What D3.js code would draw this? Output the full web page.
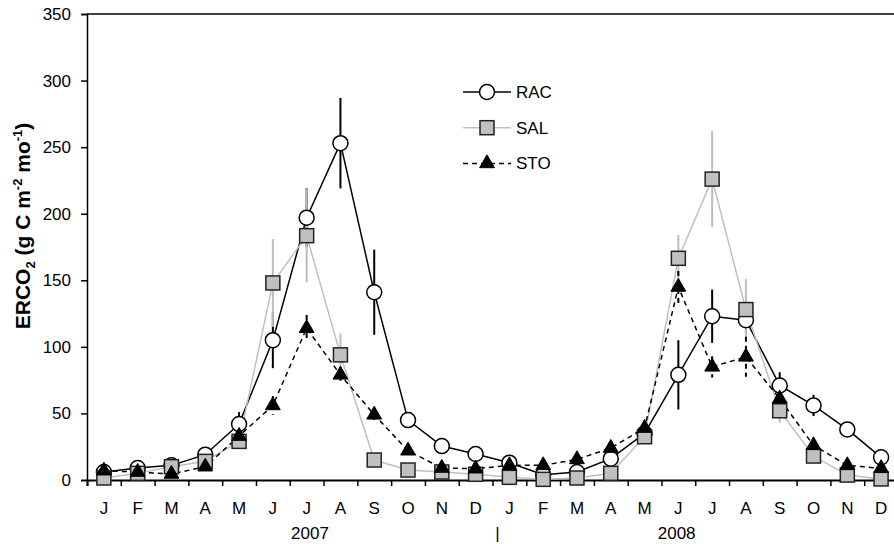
<!DOCTYPE html>
<html>
<head>
<meta charset="utf-8">
<script src="https://cdn.jsdelivr.net/npm/d3@7/dist/d3.min.js"></script>
<style>
	body { margin: 0; background: #fff; }
	svg { display: block; font-family: 'Liberation Sans', Arial, sans-serif; }
</style>
</head>
<body>
<script>
'use strict';

const months = ['J', 'F', 'M', 'A', 'M', 'J', 'J', 'A', 'S', 'O', 'N', 'D',
	'J', 'F', 'M', 'A', 'M', 'J', 'J', 'A', 'S', 'O', 'N', 'D'];
const years = [{ label: '2007', at: 6.6 }, { label: '|', at: 12.15 }, { label: '2008', at: 17.45 }];
const yTicks = [0, 50, 100, 150, 200, 250, 300, 350];

const racValues = [6, 9, 11, 19, 42, 105, 197, 253, 141, 45, 25.5, 19.5,
	13, 4, 6, 16, 35, 79, 123, 120, 71, 56, 38, 17];
const racErrors = [1, 1, 2, 3, 9, 21, 22, 34, 32, 5, 3, 3,
	2, 1, 1, 3, 5, 26, 20, 10, 10, 8, 4, 3];
const salValues = [1.5, 5, 10, 14, 29, 148, 183.5, 94, 15, 7.5, 6, 4.3,
	2, 0.5, 1.5, 5, 32.5, 166.5, 226, 128, 52, 18, 3.7, 0.8];
const salErrors = [1, 1, 2, 3, 4, 33, 35, 16, 3, 2, 2, 1,
	1, 0.5, 1, 2, 5, 17.5, 36, 23, 9, 4, 1, 1];
const stoValues = [7, 6, 4.5, 10, 33, 56, 114, 79, 49, 22, 9, 8.5,
	11, 11, 15.5, 24, 39, 145, 85, 92.5, 61, 26, 11, 8.8];
const stoErrors = [1, 1, 1, 3, 5, 7, 10, 6, 4, 3, 2, 2,
	2, 2, 2, 3, 5, 12, 8, 15, 6, 4, 2, 2];

const series = [
	{ name: 'RAC', values: racValues, errors: racErrors, line: '#000', dash: null, bar: '#000', shape: 'circle' },
	{ name: 'SAL', values: salValues, errors: salErrors, line: '#c0c0c0', dash: null, bar: '#bdbdbd', shape: 'square' },
	{ name: 'STO', values: stoValues, errors: stoErrors, line: '#000', dash: '5,4', bar: '#000', shape: 'triangle' }
];

const W = 894, H = 544,
	plotLeft = 87, plotRight = 898, plotTop = 14, plotBottom = 480,
	svg = d3.select('body').append('svg').attr('width', W).attr('height', H),
	x = d3.scaleLinear().domain([0, 24]).range([plotLeft, plotRight]),
	y = d3.scaleLinear().domain([0, 350]).range([plotBottom, plotTop]);

const drawMarker = (sel, shape) => {
	if (shape === 'circle') {
		sel.append('circle').attr('r', 7.5)
			.attr('fill', '#fff').attr('stroke', '#000').attr('stroke-width', 1.5);
	} else if (shape === 'square') {
		sel.append('rect').attr('x', -7).attr('y', -7).attr('width', 14).attr('height', 14)
			.attr('fill', '#c0c0c0').attr('stroke', '#222').attr('stroke-width', 1.5);
	} else {
		sel.append('path').attr('d', d3.symbol(d3.symbolTriangle, 95)())
			.attr('fill', '#000').attr('stroke', '#000').attr('stroke-width', 1);
	}
};

// frame: top line and axes
svg.append('line')
	.attr('x1', plotLeft).attr('x2', W).attr('y1', plotTop).attr('y2', plotTop)
	.attr('stroke', '#000').attr('stroke-width', 1.5);

const yAxis = svg.append('g')
	.attr('transform', `translate(${plotLeft},0)`)
	.call(d3.axisLeft(y).tickValues(yTicks).tickSize(6).tickPadding(10));

const xAxis = svg.append('g')
	.attr('transform', `translate(0,${plotBottom})`)
	.call(d3.axisBottom(x).tickValues(d3.range(0, 25)).tickSize(6).tickFormat(''));

[yAxis, xAxis].forEach(a => {
	a.selectAll('path, line').attr('stroke', '#000').attr('stroke-width', 1.5);
	a.selectAll('text').attr('font-size', 17).attr('fill', '#000')
		.attr('font-family', "'Liberation Sans', Arial, sans-serif");
});
xAxis.select('.domain').attr('stroke-width', 2);

svg.append('g').selectAll('text').data(months).enter().append('text')
	.attr('x', (d, i) => x(i + 0.5)).attr('y', 514)
	.attr('text-anchor', 'middle').attr('font-size', 17)
	.text(d => d);

svg.append('g').selectAll('text').data(years).enter().append('text')
	.attr('x', d => x(d.at)).attr('y', 539)
	.attr('text-anchor', 'middle').attr('font-size', 17)
	.text(d => d.label);

// y title
const title = svg.append('text')
	.attr('transform', 'translate(30,226) rotate(-90)')
	.attr('text-anchor', 'middle').attr('font-size', 21).attr('font-weight', 'bold');
title.append('tspan').text('ERCO');
title.append('tspan').attr('font-size', 13).attr('dy', 5).text('2');
title.append('tspan').attr('dy', -5).text(' (g C m');
title.append('tspan').attr('font-size', 13).attr('dy', -8).text('-2');
title.append('tspan').attr('dy', 8).text(' mo');
title.append('tspan').attr('font-size', 13).attr('dy', -8).text('-1');
title.append('tspan').attr('dy', 8).text(')');

// lines
const line = d3.line().x((d, i) => x(i + 0.5)).y(d => y(d));
series.forEach(s => {
	svg.append('path').datum(s.values)
		.attr('d', line).attr('fill', 'none')
		.attr('stroke', s.line).attr('stroke-width', 1.5)
		.attr('stroke-dasharray', s.dash);
});

// error bars
series.forEach(s => {
	svg.append('g').selectAll('line').data(s.values).enter().append('line')
		.attr('x1', (d, i) => x(i + 0.5)).attr('x2', (d, i) => x(i + 0.5))
		.attr('y1', (d, i) => y(d + s.errors[i])).attr('y2', (d, i) => y(Math.max(0, d - s.errors[i])))
		.attr('stroke', s.bar).attr('stroke-width', 2)
		.attr('stroke-dasharray', s.dash);
});

// markers
series.forEach(s => {
	svg.append('g').selectAll('g').data(s.values).enter().append('g')
		.attr('transform', (d, i) => `translate(${x(i + 0.5)},${y(d)})`)
		.each(function () { drawMarker(d3.select(this), s.shape); });
});

// legend
const legend = svg.append('g').selectAll('g').data(series).enter().append('g')
	.attr('transform', (d, i) => `translate(487,${92 + i * 35.7})`);
legend.append('line')
	.attr('x1', -24).attr('x2', 24)
	.attr('stroke', d => d.line).attr('stroke-width', 1.5)
	.attr('stroke-dasharray', d => d.dash);
legend.each(function (d) { drawMarker(d3.select(this), d.shape); });
legend.append('text')
	.attr('x', 29).attr('y', 6).attr('font-size', 17)
	.text(d => d.name);
</script>
</body>
</html>
